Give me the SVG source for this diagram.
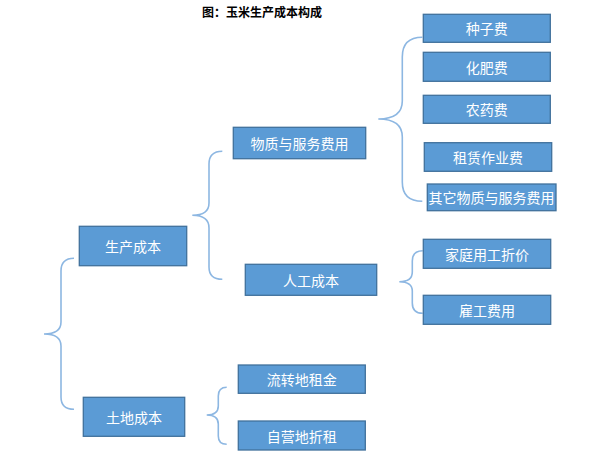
<svg xmlns="http://www.w3.org/2000/svg" width="597" height="458" viewBox="0 0 597 458">
<style>
.box{fill:#5B9BD5;stroke:#41719C;stroke-width:1.3}
.lbl{fill:#FFFFFF;font-family:"Noto Sans CJK SC","Noto Sans",sans-serif;font-size:14px;text-anchor:middle;dominant-baseline:central}
.brace{fill:none;stroke:#8DB7E2;stroke-width:1.6}
.title{fill:#000000;font-family:"Noto Sans CJK SC","Noto Sans",sans-serif;font-size:12px;font-weight:bold;text-anchor:middle}
</style>
<rect width="597" height="458" fill="#FFFFFF"/>
<text class="title" x="262" y="17">图：玉米生产成本构成</text>
<g id="connectors">
<path class="brace" d="M74,258.3 Q61,258.3 61,271 L61,322 Q61,334 44,334 Q61,334 61,346 L61,397 Q61,409.3 74,409.3"/>
<path class="brace" d="M222.3,151.3 Q209,151.3 209,164 L209,203 Q209,215.3 192.3,215.3 Q209,215.3 209,228 L209,267 Q209,279.3 222.3,279.3"/>
<path class="brace" d="M422.3,37.3 Q402.3,37.3 402.3,57 L402.3,101 Q402.3,119 378.3,119 Q402.3,119 402.3,137 L402.3,182 Q402.3,201.3 422.3,201.3"/>
<path class="brace" d="M422.7,250.7 Q412.3,250.7 412.3,261 L412.3,272 Q412.3,281.7 399.3,281.7 Q412.3,281.7 412.3,291 L412.3,303 Q412.3,313.3 422.7,313.3"/>
<path class="brace" d="M226.7,387.3 Q218.3,387.3 218.3,396 L218.3,406 Q218.3,415 206.7,415 Q218.3,415 218.3,424 L218.3,436 Q218.3,444.3 226.7,444.3"/>
</g>
<g id="n_seed"><rect class="box" x="423.3" y="14.3" width="127" height="28"/><text class="lbl" x="486.8" y="28.3">种子费</text></g>
<g id="n_fert"><rect class="box" x="423.3" y="52.3" width="127" height="29"/><text class="lbl" x="486.8" y="66.8">化肥费</text></g>
<g id="n_pest"><rect class="box" x="423.3" y="95.3" width="127" height="28"/><text class="lbl" x="486.8" y="109.3">农药费</text></g>
<g id="n_rent"><rect class="box" x="424.3" y="142.7" width="127.4" height="28.6"/><text class="lbl" x="488" y="157">租赁作业费</text></g>
<g id="n_other"><rect class="box" x="427.3" y="184" width="128.7" height="26.7"/><text class="lbl" x="491.6" y="197.3">其它物质与服务费用</text></g>
<g id="n_material"><rect class="box" x="233.3" y="127.3" width="132.4" height="31.4"/><text class="lbl" x="299.5" y="143">物质与服务费用</text></g>
<g id="n_prod"><rect class="box" x="79.3" y="226.3" width="107.4" height="39.4"/><text class="lbl" x="133" y="246">生产成本</text></g>
<g id="n_labor"><rect class="box" x="245.3" y="264.3" width="131.4" height="31"/><text class="lbl" x="311" y="279.8">人工成本</text></g>
<g id="n_family"><rect class="box" x="423.3" y="239.3" width="127.4" height="29"/><text class="lbl" x="487" y="253.8">家庭用工折价</text></g>
<g id="n_hired"><rect class="box" x="423.3" y="295.3" width="127.4" height="29"/><text class="lbl" x="487" y="309.8">雇工费用</text></g>
<g id="n_transfer"><rect class="box" x="238.3" y="365" width="127" height="28.3"/><text class="lbl" x="301.8" y="379.2">流转地租金</text></g>
<g id="n_own"><rect class="box" x="238.3" y="421" width="127" height="29"/><text class="lbl" x="301.8" y="435.5">自营地折租</text></g>
<g id="n_land"><rect class="box" x="83.3" y="397.3" width="101.4" height="39"/><text class="lbl" x="134" y="416.8">土地成本</text></g>
</svg>
